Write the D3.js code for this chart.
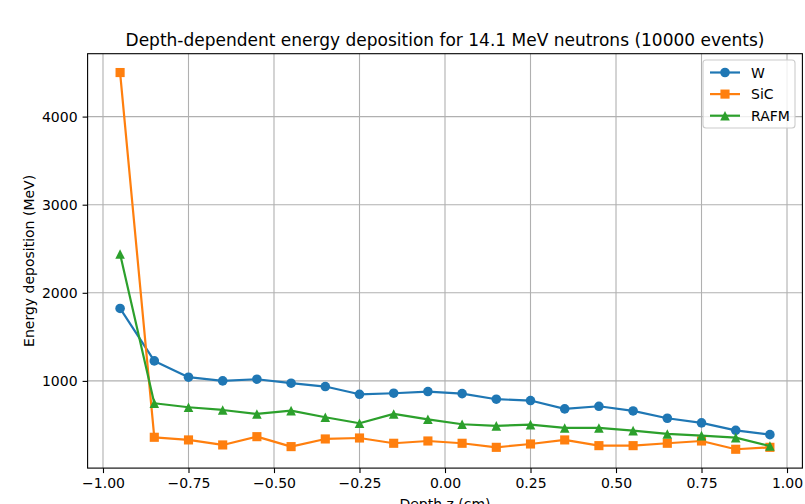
<!DOCTYPE html>
<html lang="en">
<head>
<meta charset="UTF-8">
<script src="https://d3js.org/d3.v7.min.js"></script>
<title>Depth-dependent energy deposition</title>
<style>
    body { margin: 0; background: #fff; }
    svg { display: block; font-family: "DejaVu Sans", sans-serif; }
</style>
</head>
<body>
<svg class="chart"></svg>
<script>
// depth bin centres (cm)
const depth = [-0.95, -0.85, -0.75, -0.65, -0.55, -0.45, -0.35, -0.25, -0.15, -0.05,
               0.05, 0.15, 0.25, 0.35, 0.45, 0.55, 0.65, 0.75, 0.85, 0.95];
// energy deposition (MeV) per material
const wDep    = [1822, 1227, 1042, 1000, 1019, 974, 936, 848, 860, 879,
                 856, 792, 777, 682, 712, 659, 576, 523, 439, 390];
const sicDep  = [4500, 360, 330, 273, 367, 254, 341, 352, 292, 318,
                 292, 246, 284, 330, 265, 265, 292, 318, 224, 246];
const rafmDep = [2440, 746, 701, 670, 625, 663, 587, 519, 625, 564,
                 508, 489, 504, 466, 466, 436, 398, 379, 356, 261];
const seriesNames = ["W", "SiC", "RAFM"];
const xTicks = [-1.0, -0.75, -0.5, -0.25, 0.0, 0.25, 0.5, 0.75, 1.0];
const yTicks = [1000, 2000, 3000, 4000];

const width = 805, height = 504;
const plotLeft = 87.6, plotRight = 802.4, plotTop = 53.7, plotBottom = 468.1;

const series = [
    {name: seriesNames[0], values: wDep,    color: "#1f77b4", shape: "circle"},
    {name: seriesNames[1], values: sicDep,  color: "#ff7f0e", shape: "square"},
    {name: seriesNames[2], values: rafmDep, color: "#2ca02c", shape: "triangle"}
];

const all = wDep.concat(sicDep, rafmDep);
const lo = d3.min(all), hi = d3.max(all);
const pad = 0.05 * (hi - lo);
const xPad = 0.05 * (d3.max(depth) - d3.min(depth));

const x = d3.scaleLinear()
    .domain([d3.min(depth) - xPad, d3.max(depth) + xPad])
    .range([plotLeft, plotRight]);
const y = d3.scaleLinear()
    .domain([lo - pad, hi + pad])
    .range([plotBottom, plotTop]);

const svg = d3.select(".chart").attr("width", width).attr("height", height);

// grid
svg.append("g").selectAll("line")
    .data(xTicks).enter().append("line")
    .attr("x1", d => x(d)).attr("x2", d => x(d))
    .attr("y1", plotTop).attr("y2", plotBottom)
    .style("stroke", "#b0b0b0").style("stroke-width", 1.1);
svg.append("g").selectAll("line")
    .data(yTicks).enter().append("line")
    .attr("x1", plotLeft).attr("x2", plotRight)
    .attr("y1", d => y(d)).attr("y2", d => y(d))
    .style("stroke", "#b0b0b0").style("stroke-width", 1.1);

// axes
const fmt = d3.format(".2f");
const xAxis = svg.append("g")
    .attr("transform", "translate(0," + plotBottom + ")")
    .call(d3.axisBottom(x).tickValues(xTicks).tickFormat(fmt).tickSize(5).tickPadding(5));
const yAxis = svg.append("g")
    .attr("transform", "translate(" + plotLeft + ",0)")
    .call(d3.axisLeft(y).tickValues(yTicks).tickFormat(d3.format("d")).tickSize(5).tickPadding(5));
[xAxis, yAxis].forEach(function (a) {
    a.select(".domain").remove();
    a.selectAll("line").style("stroke", "#000").style("stroke-width", 1.1);
    a.selectAll("text").style("font-size", "14px").style("fill", "#000")
        .style("font-family", "\"DejaVu Sans\", sans-serif");
});

// frame
svg.append("rect")
    .attr("x", plotLeft).attr("y", plotTop)
    .attr("width", plotRight - plotLeft).attr("height", plotBottom - plotTop)
    .style("fill", "none").style("stroke", "#000").style("stroke-width", 1.1);

// lines and markers
function marker(g, shape, color, cx, cy) {
    const s = 9.6;
    if (shape === "square") {
        const q = s * 0.95;
        g.append("rect").attr("x", cx - q / 2).attr("y", cy - q / 2)
            .attr("width", q).attr("height", q).style("fill", color);
    } else if (shape === "triangle") {
        g.append("path")
            .attr("d", "M" + cx + "," + (cy - s / 2) + "L" + (cx + s / 2) + "," + (cy + s / 2)
                + "L" + (cx - s / 2) + "," + (cy + s / 2) + "Z")
            .style("fill", color);
    } else {
        g.append("circle").attr("cx", cx).attr("cy", cy).attr("r", s / 2).style("fill", color);
    }
}

const line = d3.line().x(d => x(d[0])).y(d => y(d[1]));
series.forEach(function (s) {
    const pts = depth.map((d, i) => [d, s.values[i]]);
    const g = svg.append("g");
    g.append("path").datum(pts).attr("d", line)
        .style("fill", "none").style("stroke", s.color).style("stroke-width", 2.2)
        .style("stroke-linejoin", "round");
    pts.forEach(p => marker(g, s.shape, s.color, x(p[0]), y(p[1])));
});

// title and labels
svg.append("text")
    .attr("x", (plotLeft + plotRight) / 2).attr("y", 46)
    .attr("text-anchor", "middle")
    .style("font-size", "17px")
    .text("Depth-dependent energy deposition for 14.1 MeV neutrons (10000 events)");
svg.append("text")
    .attr("transform", "translate(34," + (plotTop + plotBottom) / 2 + ") rotate(-90)")
    .attr("text-anchor", "middle")
    .style("font-size", "14px")
    .text("Energy deposition (MeV)");
svg.append("text")
    .attr("x", (plotLeft + plotRight) / 2).attr("y", 509)
    .attr("text-anchor", "middle")
    .style("font-size", "14px")
    .text("Depth z (cm)");

// legend
const lg = svg.append("g");
lg.append("rect")
    .attr("x", 703).attr("y", 60).attr("width", 92).attr("height", 68)
    .attr("rx", 3)
    .style("fill", "#fff").style("fill-opacity", 0.8)
    .style("stroke", "#cccccc").style("stroke-width", 1.1);
series.forEach(function (s, i) {
    const cy = 72.5 + i * 21.6;
    lg.append("line").attr("x1", 710).attr("x2", 740).attr("y1", cy).attr("y2", cy)
        .style("stroke", s.color).style("stroke-width", 2.2);
    marker(lg, s.shape, s.color, 725, cy);
    lg.append("text").attr("x", 751).attr("y", cy + 5)
        .style("font-size", "14px").text(s.name);
});
</script>
</body>
</html>
